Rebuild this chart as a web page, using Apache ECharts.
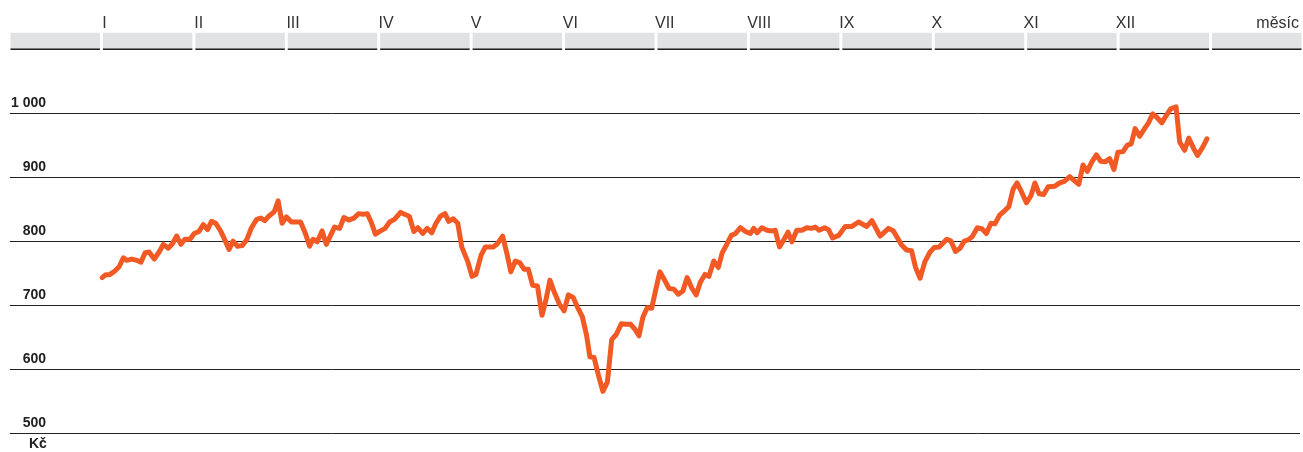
<!DOCTYPE html>
<html>
<head>
<meta charset="utf-8">
<script src="https://cdn.jsdelivr.net/npm/echarts@6/dist/echarts.min.js"></script>
<style>
html,body{margin:0;padding:0;background:#fff;}
#c{width:1303px;height:452px;}
</style>
</head>
<body>
<div id="c"></div>
<script>
// ---- data ----
var monthLabels = ['I','II','III','IV','V','VI','VII','VIII','IX','X','XI','XII'];
var days = [0,1.0,2.6,4.1,5.6,7.0,8.1,9.8,11.4,12.8,14.2,15.5,17.2,18.8,20.2,21.8,23.2,24.6,26.0,27.3,29.0,30.4,31.9,33.4,34.8,36.1,37.5,39.2,40.5,41.9,43.2,44.7,46.2,47.7,49.3,51.0,52.4,53.7,55.0,56.8,58.1,59.4,60.8,62.5,63.9,65.5,67.1,68.5,69.6,71.0,72.6,74.0,75.4,76.7,78.4,79.8,81.4,83.1,84.7,86.1,87.5,88.8,90.2,91.9,93.4,94.9,96.5,98.5,99.8,101.4,102.9,104.2,105.8,107.3,108.8,110.2,111.7,113.2,114.4,115.9,117.4,118.7,120.7,122.1,123.4,125.1,126.5,129.1,130.5,132.2,133.6,134.9,136.4,137.9,139.3,140.7,142.1,143.7,145.2,146.5,147.8,149.2,150.9,152.5,153.9,155.5,156.9,158.5,159.9,161.0,162.4,163.8,165.3,166.8,168.2,169.7,171.4,172.8,174.5,175.9,177.2,178.5,179.9,181.4,182.7,184.1,185.8,187.1,188.7,190.2,191.7,193.1,194.6,196.1,197.5,199.0,200.3,201.9,203.4,204.7,206.1,207.7,209.1,210.7,212.4,214.0,215.1,216.2,217.8,219.5,221.1,222.2,223.6,225.0,226.4,227.7,229.3,231.0,232.6,234.1,235.4,236.7,238.5,239.8,241.1,243.1,245.3,247.5,249.7,252.4,254.1,256.8,259.6,261.2,263.9,265.6,267.2,268.5,270.0,271.6,273.3,274.7,276.3,278.8,280.2,281.7,283.2,284.6,285.9,287.2,288.9,290.5,291.9,293.4,294.7,296.3,297.8,299.3,300.7,302.0,303.5,305.1,306.6,307.9,309.3,310.8,312.3,314.5,316.1,317.8,319.4,320.8,322.4,323.8,325.2,326.7,328.2,329.6,331.1,332.6,334.0,335.3,337.0,338.4,339.7,341.0,342.5,344.1,345.4,346.8,348.3,349.8,351.2,352.7,354.5,355.7,357.3,358.7,360.3,361.6,363.3,364.7];
var prices = [743,747,748,753,760,774,770,772,770,767,782,783,772,783,795,789,796,808,795,803,803,812,815,826,818,831,828,815,802,787,800,792,793,802,821,834,836,832,839,846,863,828,838,830,830,830,812,792,803,799,816,795,809,822,820,837,833,836,843,842,843,830,811,816,820,830,834,845,842,839,815,821,812,820,813,828,839,843,831,835,828,791,768,745,748,778,791,791,796,808,781,752,769,766,756,756,731,730,684,708,739,721,702,691,716,712,697,682,653,619,618,591,565,580,646,654,671,670,670,662,652,681,696,695,723,752,738,726,725,717,722,743,727,716,736,748,745,769,759,782,794,809,812,821,815,812,820,813,821,817,816,817,791,802,814,799,817,817,821,820,822,817,821,818,805,809,823,823,830,823,832,808,820,816,794,786,785,759,742,768,783,790,791,803,800,784,789,800,802,807,821,819,812,828,827,841,847,854,881,891,877,860,871,891,874,873,885,886,891,894,901,895,889,919,909,924,935,925,924,929,912,939,940,950,952,976,964,976,985,999,993,985,996,1007,1010,955,942,961,945,934,947,960];
var bandCats = ['','I','II','III','IV','V','VI','VII','VIII','IX','X','XI','XII',''];
var yearDays = 365;
var unitLabel = 'Kč';
var xAxisName = 'měsíc';
// ---- chart ----
var M = yearDays / 12;
var series = days.map(function (d, i) { return [d, prices[i]]; });
var chart = echarts.init(document.getElementById('c'), null, {renderer: 'canvas'});
var FONT = '"Liberation Sans", Arial, Helvetica, sans-serif';
chart.setOption({
  animation: false,
  backgroundColor: '#fff',
  grid: [
    {left: 10, right: 0, top: 49.3, bottom: 19, containLabel: false},
    {left: 9, right: -2, top: 32.7, height: 17.3, containLabel: false}
  ],
  graphic: [
    {type: 'text', left: 29, top: 437, silent: true,
     style: {text: unitLabel, fill: '#222', font: 'bold 14px ' + FONT}}
  ],
  xAxis: [
    {
      type: 'value', gridIndex: 0, position: 'top',
      min: -M, max: yearDays + M, interval: M,
      axisLine: {show: false}, axisTick: {show: false}, splitLine: {show: false},
      axisLabel: {
        show: true, align: 'left', verticalAlign: 'bottom', margin: 18,
        color: '#333', fontSize: 16, fontFamily: FONT,
        showMinLabel: true, showMaxLabel: true,
        formatter: function (v) {
          var i = Math.round(v / M);
          return (i >= 0 && i < monthLabels.length) ? monthLabels[i] : '';
        }
      },
      name: xAxisName, nameLocation: 'end', nameGap: -1,
      nameTextStyle: {align: 'right', verticalAlign: 'bottom', padding: [0, 0, 18, 0], color: '#333', fontSize: 16, fontFamily: FONT}
    },
    {
      type: 'category', gridIndex: 1, data: bandCats, boundaryGap: true,
      axisLine: {show: false}, axisTick: {show: false}, axisLabel: {show: false}, splitLine: {show: false}
    }
  ],
  yAxis: [
    {
      type: 'value', gridIndex: 0, min: 500, max: 1100, interval: 100,
      axisLine: {show: false}, axisTick: {show: false},
      splitLine: {show: true, lineStyle: {color: ['#222', '#222', '#222', '#222', '#222', '#222', 'rgba(0,0,0,0)'], width: 1}},
      axisLabel: {
        inside: true, margin: 36, align: 'right', verticalAlign: 'bottom', padding: [0, 0, 3, 0],
        color: '#222', fontWeight: 'bold', fontSize: 14, fontFamily: FONT,
        formatter: function (v) {
          if (v > 1000) return '';
          return String(v).replace(/\B(?=(\d{3})+(?!\d))/g, ' ');
        }
      }
    },
    {
      type: 'value', gridIndex: 1, min: 0, max: 17.3, show: false,
      axisLine: {show: false}, splitLine: {show: false}, axisLabel: {show: false}
    }
  ],
  series: [
    {
      type: 'bar', xAxisIndex: 1, yAxisIndex: 1, stack: 'band', barCategoryGap: '3.2%',
      data: bandCats.map(function () { return 1.7; }),
      itemStyle: {color: '#222'}, silent: true
    },
    {
      type: 'bar', xAxisIndex: 1, yAxisIndex: 1, stack: 'band', barCategoryGap: '3.2%',
      data: bandCats.map(function () { return 15.6; }),
      itemStyle: {color: '#e1e2e4'}, silent: true
    },
    {
      type: 'line', xAxisIndex: 0, yAxisIndex: 0, data: series,
      symbol: 'none', smooth: false,
      lineStyle: {color: '#f15a24', width: 5, join: 'round', cap: 'round'}
    }
  ]
});
</script>
</body>
</html>
